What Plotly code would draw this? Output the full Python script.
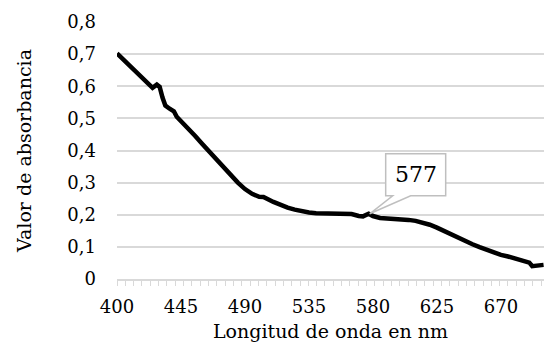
import plotly.graph_objects as go

# Data
wavelength = [400, 405, 410, 415, 420, 425, 428, 430, 432, 434, 437, 440, 442, 445,
              450, 455, 460, 465, 470, 475, 480, 485, 490, 495, 500, 503, 510, 515,
              520, 525, 530, 535, 540, 545, 550, 555, 560, 565, 570, 573, 577, 580,
              585, 590, 595, 600, 605, 610, 615, 620, 625, 630, 635, 640, 645, 650,
              655, 660, 665, 670, 675, 680, 685, 690, 692, 695, 700]
absorbance = [0.702, 0.680, 0.658, 0.636, 0.618, 0.595, 0.605, 0.598, 0.565, 0.540,
              0.530, 0.522, 0.505, 0.492, 0.468, 0.445, 0.420, 0.395, 0.370, 0.345,
              0.322, 0.300, 0.280, 0.265, 0.256, 0.255, 0.240, 0.230, 0.222, 0.216,
              0.211, 0.207, 0.205, 0.204, 0.203, 0.203, 0.204, 0.202, 0.196, 0.195,
              0.203, 0.196, 0.190, 0.189, 0.188, 0.186, 0.184, 0.181, 0.176, 0.169,
              0.160, 0.149, 0.138, 0.128, 0.118, 0.108, 0.099, 0.090, 0.083, 0.075,
              0.070, 0.064, 0.058, 0.051, 0.040, 0.041, 0.044]
x_tick_vals = [400, 445, 490, 535, 580, 625, 670]
y_tick_vals = [0, 0.1, 0.2, 0.3, 0.4, 0.5, 0.6, 0.7, 0.8]
callout_x = 577
callout_label = "577"
x_title = "Longitud de onda en nm"
y_title = "Valor de absorbancia"

FONT = "DejaVu Serif"
GRID = "#d9d9d9"

fig = go.Figure()
fig.add_trace(go.Scatter(
    x=wavelength, y=absorbance, mode="lines",
    line=dict(color="#000000", width=4.5),
    hoverinfo="skip", showlegend=False,
))

callout_y = absorbance[wavelength.index(callout_x)]

# speech-bubble callout (pixel-sized, anchored on the data point)
fig.add_shape(
    type="path", xref="x", yref="y",
    xsizemode="pixel", ysizemode="pixel",
    xanchor=callout_x, yanchor=callout_y,
    path="M 1,0 L 42,18 L 77,18 L 77,60 L 17,60 L 17,18 L 24,18 Z",
    line=dict(color="#bfbfbf", width=1.5),
    fillcolor="white", layer="above",
)
fig.add_annotation(
    x=callout_x, y=callout_y, xref="x", yref="y",
    text=callout_label, showarrow=False,
    xshift=47, yshift=39,
    font=dict(family=FONT, size=22, color="#000000"),
)

fig.update_layout(
    width=544, height=343,
    margin=dict(l=117, r=0, t=22, b=64),
    paper_bgcolor="white", plot_bgcolor="white",
    separators=",.",
    font=dict(family=FONT, size=18, color="#000000"),
    xaxis=dict(
        range=[400, 700.3],
        tickmode="array", tickvals=x_tick_vals,
        ticks="", showgrid=False, zeroline=False,
        showline=True, linecolor=GRID, linewidth=1.5,
        ticklabelstandoff=11,
        minor=dict(ticks="outside", ticklen=5, tickcolor=GRID, tickwidth=1.2,
                   tick0=400, dtick=5.85, showgrid=False),
        title=dict(text=x_title, standoff=8, font=dict(family=FONT, size=19)),
        tickfont=dict(family=FONT, size=18),
    ),
    yaxis=dict(
        range=[0, 0.8],
        tickmode="array", tickvals=y_tick_vals,
        ticks="", showgrid=True, gridcolor=GRID, gridwidth=1.5,
        zeroline=False, showline=False,
        ticklabelstandoff=20,
        title=dict(text=y_title, standoff=30, font=dict(family=FONT, size=19)),
        tickfont=dict(family=FONT, size=18),
    ),
)

fig.write_html("out.html")
